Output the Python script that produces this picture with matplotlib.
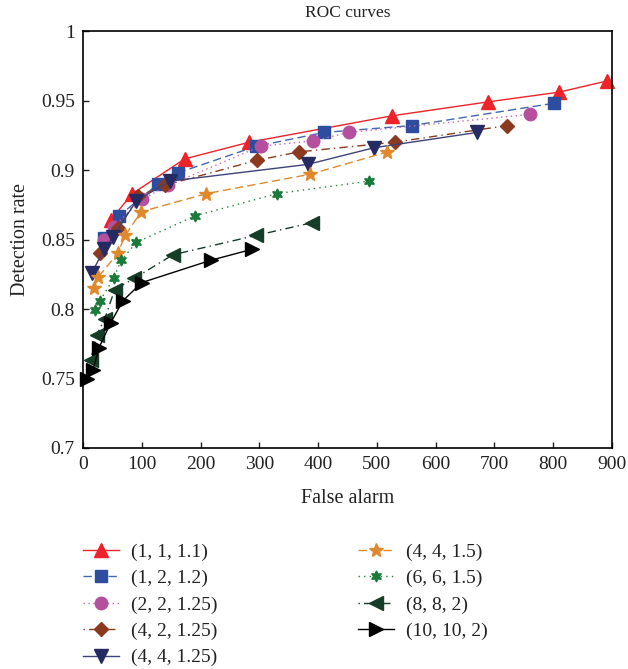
import matplotlib
matplotlib.use("Agg")
import matplotlib.pyplot as plt
from matplotlib.ticker import FuncFormatter, MultipleLocator

plt.rcParams['font.family'] = ['Liberation Serif', 'DejaVu Serif']

labels = ["(1, 1, 1.1)", "(1, 2, 1.2)", "(2, 2, 1.25)", "(4, 2, 1.25)", "(4, 4, 1.25)",
          "(4, 4, 1.5)", "(6, 6, 1.5)", "(8, 8, 2)", "(10, 10, 2)"]

x_111 = [47, 84, 173, 283, 526, 689, 810, 891]
y_111 = [0.864, 0.883, 0.908, 0.920, 0.939, 0.949, 0.956, 0.964]
x_121 = [35, 61, 128, 162, 294, 410, 560, 801]
y_121 = [0.851, 0.867, 0.890, 0.898, 0.917, 0.927, 0.932, 0.948]
x_2125 = [36, 52, 101, 145, 302, 392, 452, 760]
y_2125 = [0.850, 0.859, 0.879, 0.889, 0.917, 0.921, 0.927, 0.940]
x_4125a = [29, 60, 94, 139, 296, 367, 530, 722]
y_4125a = [0.840, 0.858, 0.881, 0.889, 0.907, 0.913, 0.920, 0.932]
x_4125b = [15, 36, 51, 91, 148, 382, 495, 670]
y_4125b = [0.826, 0.843, 0.852, 0.878, 0.892, 0.904, 0.916, 0.927]
x_4415 = [18, 26, 59, 72, 99, 210, 387, 518]
y_4415 = [0.815, 0.823, 0.840, 0.853, 0.870, 0.883, 0.897, 0.913]
x_6615 = [20, 29, 52, 65, 91, 191, 330, 487]
y_6615 = [0.799, 0.806, 0.822, 0.835, 0.848, 0.867, 0.883, 0.892]
x_882 = [13, 23, 37, 54, 87, 153, 295, 389]
y_882 = [0.763, 0.781, 0.793, 0.814, 0.822, 0.839, 0.853, 0.862]
x_10102 = [6, 17, 27, 47, 68, 100, 217, 288]
y_10102 = [0.750, 0.756, 0.772, 0.790, 0.806, 0.819, 0.835, 0.843]

xs = [x_111, x_121, x_2125, x_4125a, x_4125b, x_4415, x_6615, x_882, x_10102]
ys = [y_111, y_121, y_2125, y_4125a, y_4125b, y_4415, y_6615, y_882, y_10102]

styles = [
    dict(color='#ee2229', ls='-', marker='^', ms=10, mfc='#ee2229', mec='#ee2229'),
    dict(color='#4466b0', ls=(0, (6, 3)), marker='s', ms=8, mfc='#2e4d9e', mec='#2e4d9e'),
    dict(color='#c066c0', ls=(0, (1, 2.5)), marker='o', ms=9, mfc='#b5509f', mec='#b5509f'),
    dict(color='#8b3a20', ls=(0, (1, 3, 6, 3)), marker='D', ms=7, mfc='#8b3a1f', mec='#8b3a1f'),
    dict(color='#3d4378', ls='-', marker='v', ms=10, mfc='#262a63', mec='#262a63'),
    dict(color='#e0892c', ls=(0, (6, 3)), marker='*', ms=10, mfc='#e0892c', mec='#e0892c'),
    dict(color='#1f8040', ls=(0, (1, 3)), marker=(6, 1, 0), ms=8, mfc='#1a7a3a', mec='#1a7a3a'),
    dict(color='#153d27', ls=(0, (1, 3, 6, 3)), marker='<', ms=10, mfc='#153d27', mec='#153d27'),
    dict(color='#000000', ls='-', marker='>', ms=10, mfc='#000000', mec='#000000'),
]

fig = plt.figure(figsize=(6.28, 6.69), dpi=100)
ax = fig.add_axes([83/628, 1-448/669, (612-83)/628, (448-31)/669])

handles = []
for x, y, st, lab in zip(xs, ys, styles, labels):
    h, = ax.plot(x, y, lw=1.0, label=lab, clip_on=False, **st)
    handles.append(h)

ax.set_xlim(0, 900)
ax.set_ylim(0.7, 1.0)
ax.xaxis.set_major_locator(MultipleLocator(100))
ax.yaxis.set_major_locator(MultipleLocator(0.05))
ax.yaxis.set_major_formatter(FuncFormatter(lambda v, p: ('%.2f' % v).rstrip('0').rstrip('.')))
ax.tick_params(direction='in', length=4, width=1, labelsize=14, colors='#222222',
               top=False, right=False, pad=6)
for s in ax.spines.values():
    s.set_linewidth(1.2)
    s.set_color('black')

ax.set_title("ROC curves", fontsize=12.5, color='#222222', pad=10)
ax.set_xlabel("False alarm", fontsize=14.5, color='#222222', labelpad=11)
ax.set_ylabel("Detection rate", fontsize=14.5, color='#222222', labelpad=8)

common = dict(frameon=False, fontsize=14, handlelength=1.85, handletextpad=0.62,
              labelspacing=0.45, borderpad=0, borderaxespad=0, loc='upper left')
leg1 = fig.legend(handles[:5], labels[:5], bbox_to_anchor=(83/628, 1-543/669), **common)
for t in leg1.get_texts():
    t.set_color('#222222')
leg2 = fig.legend(handles[5:], labels[5:], bbox_to_anchor=(358/628, 1-543/669), **common)
for t in leg2.get_texts():
    t.set_color('#222222')

fig.savefig("out.png", dpi=100)
